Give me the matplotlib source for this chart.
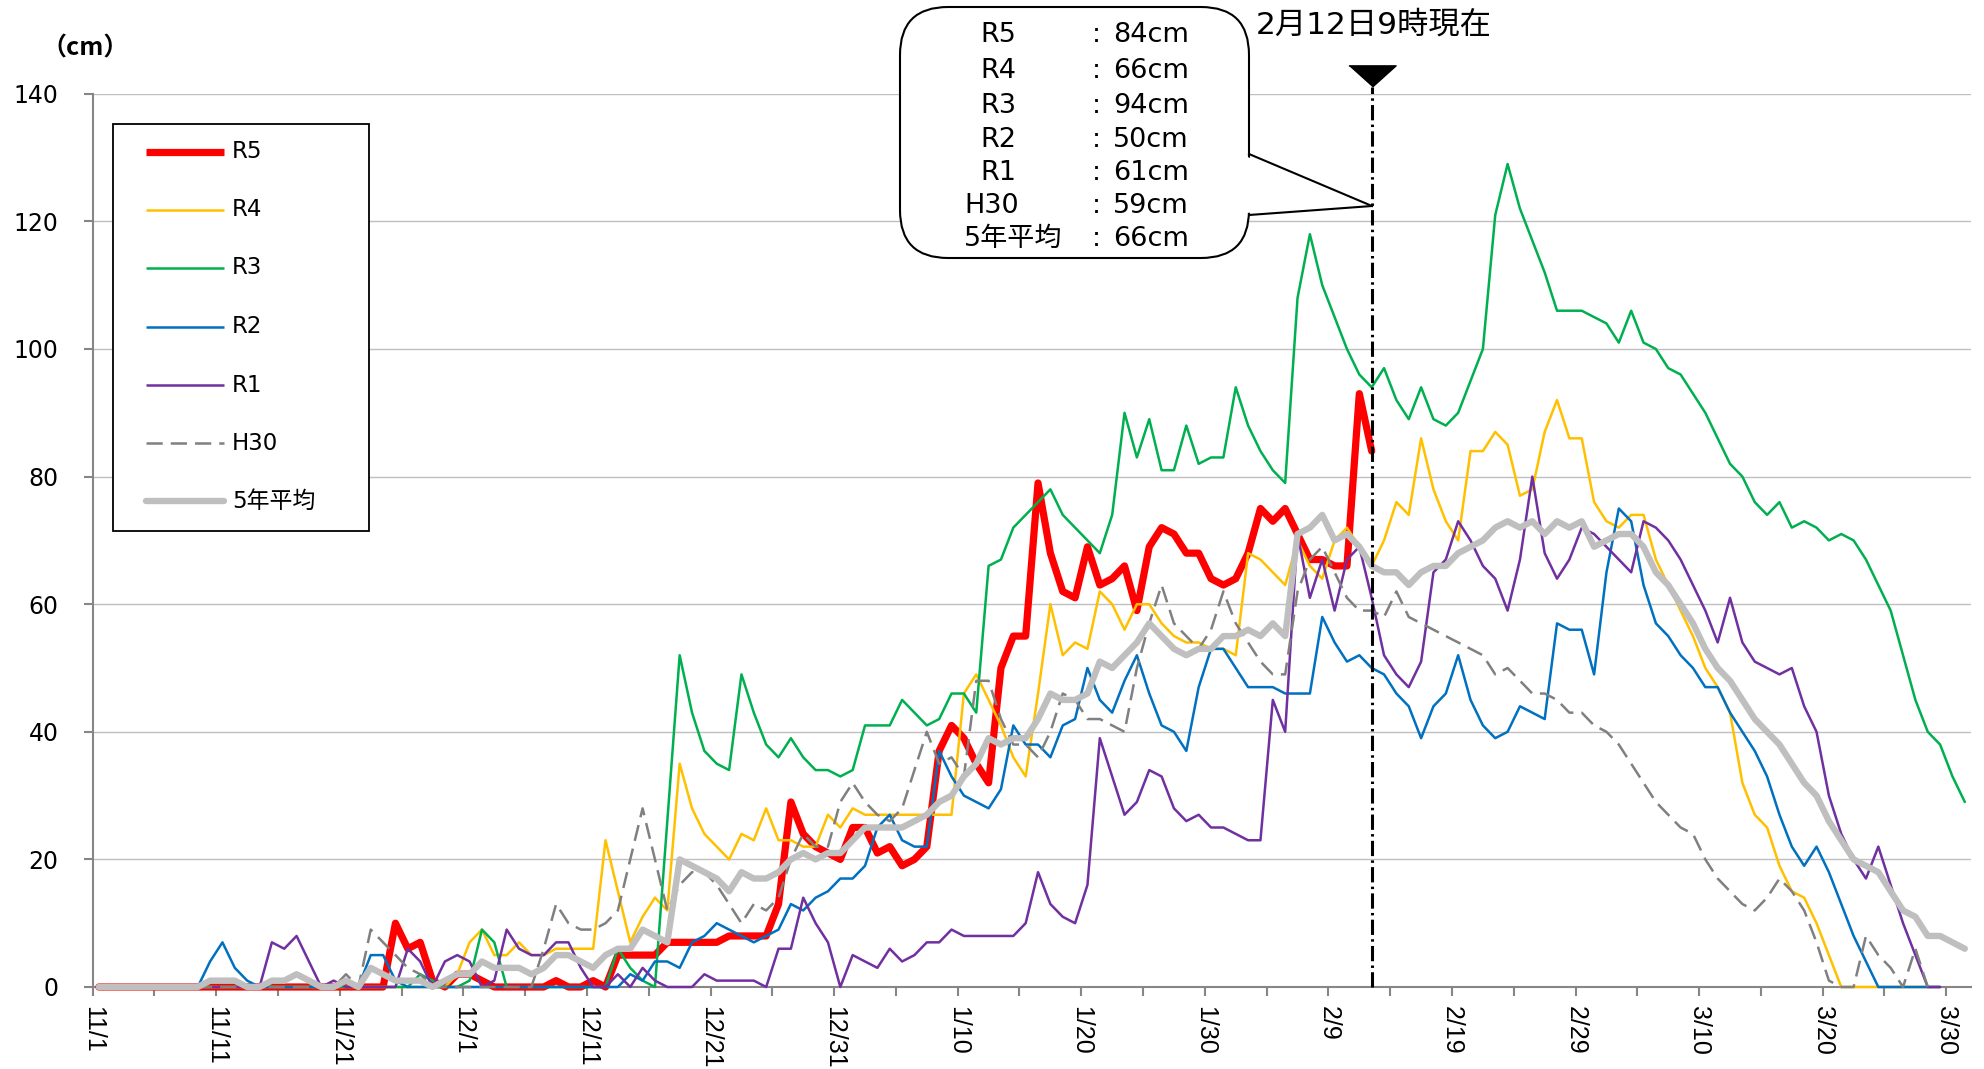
import numpy as np
import matplotlib
matplotlib.use("Agg")
import matplotlib.pyplot as plt
from matplotlib.patches import FancyBboxPatch, Polygon, Rectangle
from matplotlib.lines import Line2D
from matplotlib.transforms import IdentityTransform

# ---------------- data (snow depth, cm; one value per day from 11/1) ----------------
tick_labels = ["11/1", "11/11", "11/21", "12/1", "12/11", "12/21", "12/31", "1/10",
               "1/20", "1/30", "2/9", "2/19", "2/29", "3/10", "3/20", "3/30"]

r5 = [0, 0, 0, 0, 0, 0, 0, 0, 0, 0,
      0, 0, 0, 0, 0, 0, 0, 0, 0, 0,
      0, 0, 0, 0, 10, 6, 7, 1, 0, 2,
      2, 1, 0, 0, 0, 0, 0, 1, 0, 0,
      1, 0, 5, 5, 5, 5, 7, 7, 7, 7,
      7, 8, 8, 8, 8, 13, 29, 24, 22, 21,
      20, 25, 25, 21, 22, 19, 20, 22, 37, 41,
      39, 35, 32, 50, 55, 55, 79, 68, 62, 61,
      69, 63, 64, 66, 59, 69, 72, 71, 68, 68,
      64, 63, 64, 68, 75, 73, 75, 71, 67, 67,
      66, 66, 93, 84]

r4 = [0, 0, 0, 0, 0, 0, 0, 0, 0, 0,
      0, 0, 0, 0, 0, 0, 0, 0, 0, 0,
      0, 0, 0, 0, 0, 0, 0, 0, 0, 2,
      7, 9, 5, 5, 7, 5, 5, 6, 6, 6,
      6, 23, 15, 7, 11, 14, 12, 35, 28, 24,
      22, 20, 24, 23, 28, 23, 23, 22, 22, 27,
      25, 28, 27, 27, 27, 27, 27, 27, 27, 27,
      46, 49, 45, 41, 36, 33, 46, 60, 52, 54,
      53, 62, 60, 56, 60, 60, 57, 55, 54, 54,
      53, 53, 52, 68, 67, 65, 63, 70, 66, 64,
      70, 72, 69, 66, 70, 76, 74, 86, 78, 73,
      70, 84, 84, 87, 85, 77, 78, 87, 92, 86,
      86, 76, 73, 72, 74, 74, 67, 63, 59, 55,
      50, 47, 43, 32, 27, 25, 19, 15, 14, 10,
      5, 0, 0, 0, 0, 0, 0, 0, 0, 0]

r3 = [0, 0, 0, 0, 0, 0, 0, 0, 0, 0,
      0, 0, 0, 0, 0, 0, 0, 0, 0, 0,
      0, 0, 0, 0, 0, 0, 2, 1, 0, 0,
      1, 9, 7, 0, 0, 0, 0, 0, 0, 0,
      0, 0, 6, 3, 1, 0, 26, 52, 43, 37,
      35, 34, 49, 43, 38, 36, 39, 36, 34, 34,
      33, 34, 41, 41, 41, 45, 43, 41, 42, 46,
      46, 43, 66, 67, 72, 74, 76, 78, 74, 72,
      70, 68, 74, 90, 83, 89, 81, 81, 88, 82,
      83, 83, 94, 88, 84, 81, 79, 108, 118, 110,
      105, 100, 96, 94, 97, 92, 89, 94, 89, 88,
      90, 95, 100, 121, 129, 122, 117, 112, 106, 106,
      106, 105, 104, 101, 106, 101, 100, 97, 96, 93,
      90, 86, 82, 80, 76, 74, 76, 72, 73, 72,
      70, 71, 70, 67, 63, 59, 52, 45, 40, 38,
      33, 29]

r2 = [0, 0, 0, 0, 0, 0, 0, 0, 0, 4,
      7, 3, 1, 0, 0, 0, 0, 0, 0, 0,
      1, 0, 5, 5, 1, 0, 0, 0, 0, 0,
      0, 0, 0, 0, 0, 0, 0, 0, 0, 0,
      0, 0, 0, 2, 1, 4, 4, 3, 7, 8,
      10, 9, 8, 7, 8, 9, 13, 12, 14, 15,
      17, 17, 19, 25, 27, 23, 22, 22, 37, 33,
      30, 29, 28, 31, 41, 38, 38, 36, 41, 42,
      50, 45, 43, 48, 52, 46, 41, 40, 37, 47,
      53, 53, 50, 47, 47, 47, 46, 46, 46, 58,
      54, 51, 52, 50, 49, 46, 44, 39, 44, 46,
      52, 45, 41, 39, 40, 44, 43, 42, 57, 56,
      56, 49, 65, 75, 73, 63, 57, 55, 52, 50,
      47, 47, 43, 40, 37, 33, 27, 22, 19, 22,
      18, 13, 8, 4, 0, 0, 0, 0, 0, 0]

r1 = [0, 0, 0, 0, 0, 0, 0, 0, 0, 0,
      0, 0, 0, 0, 7, 6, 8, 4, 0, 1,
      0, 0, 0, 0, 0, 6, 4, 0, 4, 5,
      4, 0, 1, 9, 6, 5, 5, 7, 7, 3,
      0, 0, 2, 0, 3, 1, 0, 0, 0, 2,
      1, 1, 1, 1, 0, 6, 6, 14, 10, 7,
      0, 5, 4, 3, 6, 4, 5, 7, 7, 9,
      8, 8, 8, 8, 8, 10, 18, 13, 11, 10,
      16, 39, 33, 27, 29, 34, 33, 28, 26, 27,
      25, 25, 24, 23, 23, 45, 40, 71, 61, 67,
      59, 67, 69, 61, 52, 49, 47, 51, 65, 67,
      73, 70, 66, 64, 59, 67, 80, 68, 64, 67,
      72, 71, 69, 67, 65, 73, 72, 70, 67, 63,
      59, 54, 61, 54, 51, 50, 49, 50, 44, 40,
      30, 24, 20, 17, 22, 16, 10, 5, 0, 0]

h30 = [0, 0, 0, 0, 0, 0, 0, 0, 0, 0,
       0, 0, 0, 0, 0, 0, 0, 0, 0, 0,
       2, 0, 9, 7, 5, 3, 2, 0, 0, 0,
       0, 0, 0, 0, 0, 0, 6, 13, 10, 9,
       9, 10, 12, 20, 28, 20, 12, 16, 18, 18,
       16, 13, 10, 13, 12, 14, 20, 24, 22, 22,
       29, 32, 29, 27, 26, 28, 34, 40, 35, 36,
       33, 48, 48, 42, 38, 38, 36, 40, 46, 45,
       42, 42, 41, 40, 50, 57, 63, 57, 55, 53,
       56, 62, 57, 54, 51, 49, 49, 62, 67, 69,
       65, 61, 59, 59, 58, 62, 58, 57, 56, 55,
       54, 53, 52, 49, 50, 48, 46, 46, 45, 43,
       43, 41, 40, 38, 35, 32, 29, 27, 25, 24,
       20, 17, 15, 13, 12, 14, 17, 15, 12, 7,
       1, 0, 0, 8, 5, 3, 0, 6, 0]

avg5 = [0, 0, 0, 0, 0, 0, 0, 0, 0, 1,
        1, 1, 0, 0, 1, 1, 2, 1, 0, 0,
        1, 0, 3, 2, 1, 1, 1, 0, 1, 2,
        2, 4, 3, 3, 3, 2, 3, 5, 5, 4,
        3, 5, 6, 6, 9, 8, 7, 20, 19, 18,
        17, 15, 18, 17, 17, 18, 20, 21, 20, 21,
        21, 23, 25, 25, 25, 25, 26, 27, 29, 30,
        33, 35, 39, 38, 39, 39, 42, 46, 45, 45,
        46, 51, 50, 52, 54, 57, 55, 53, 52, 53,
        53, 55, 55, 56, 55, 57, 55, 71, 72, 74,
        70, 71, 69, 66, 65, 65, 63, 65, 66, 66,
        68, 69, 70, 72, 73, 72, 73, 71, 73, 72,
        73, 69, 70, 71, 71, 69, 65, 63, 60, 57,
        53, 50, 48, 45, 42, 40, 38, 35, 32, 30,
        26, 23, 20, 19, 18, 15, 12, 11, 8, 8,
        7, 6]

names = ["R5", "R4", "R3", "R2", "R1", "H30", "5年平均"]
series = [r5, r4, r3, r2, r1, h30, avg5]
colors = ["#FF0000", "#FFC000", "#00B050", "#0070C0", "#7030A0", "#808080", "#BFBFBF"]
widths = [5.2, 1.8, 1.8, 1.8, 1.8, 1.8, 4.6]
now_index = 103            # 2/12
now_label = "2月12日9時現在"

# ---------------- figure ----------------
W, H, DPI = 1984, 1069, 100
CJK = ["Noto Sans CJK JP", "DejaVu Sans"]
plt.rcParams["font.family"] = ["DejaVu Sans", "Noto Sans CJK JP"]
H30_DASH = (6.5, 3.2)

fig = plt.figure(figsize=(W / DPI, H / DPI), dpi=DPI)
L, R, T, B = 92.7, 1971.0, 93.8, 987.0
ax = fig.add_axes([L / W, 1 - B / H, (R - L) / W, (B - T) / H])

ID = IdentityTransform()
def P(x, y):
    return (x, H - y)

for k, (nm, vals, c, lw) in enumerate(zip(names, series, colors, widths)):
    x = np.arange(len(vals)) + 0.5
    kw = dict(color=c, lw=lw, zorder=3 + k, clip_on=False)
    if nm == "H30":
        kw["dashes"] = H30_DASH
    else:
        kw["solid_joinstyle"] = "round"
        kw["solid_capstyle"] = "round"
    ax.plot(x, vals, **kw)

ax.set_xlim(0, 152)
ax.set_ylim(0, 140)
ax.set_yticks(np.arange(0, 141, 20))
ax.set_xticks(np.arange(0, 151, 10))
ax.set_xticks(np.arange(5, 150, 10), minor=True)
ax.set_xticklabels(tick_labels, rotation=-90, fontsize=18, family=["Liberation Sans"])
for lab in ax.get_yticklabels():
    lab.set_fontsize(17)
ax.yaxis.grid(True, color="#BFBFBF", lw=1.0)
ax.set_axisbelow(True)
for s in ["top", "right"]:
    ax.spines[s].set_visible(False)
for s in ["left", "bottom"]:
    ax.spines[s].set_color("#868686")
    ax.spines[s].set_linewidth(1.5)
ax.tick_params(axis="y", length=6.5, width=1.5, color="#868686", pad=18)
ax.tick_params(axis="x", which="both", length=6.5, width=1.5, color="#868686", pad=7)

# unit label
fig.text(*P(85, 48), "（cm）", transform=ID, ha="center", va="center",
         fontsize=18, fontweight="bold", family=CJK)

# "now" marker line and triangle
now_x = now_index + 0.5
ax.plot([now_x, now_x], [0, 141], color="black", lw=2.2, dashes=(5, 1.4, 0.8, 1.4),
        clip_on=False, zorder=20)
tri = [(-1, 0.45), (1, 0.45), (0, -0.45)]
ax.plot([now_x], [142.8], marker=tri, ms=34, color="black", clip_on=False, zorder=20,
        linestyle="none")
fig.text(*P(1256, 25), now_label, transform=ID, ha="left", va="center",
         fontsize=22.5, family=["DejaVu Sans", "Noto Sans CJK JP"])

# callout bubble
bx0, bx1, by0, by1 = 900, 1249, 7, 258
box = FancyBboxPatch(P(bx0, by1), bx1 - bx0, by1 - by0,
                     boxstyle="round,pad=0,rounding_size=48",
                     transform=ID, fc="white", ec="black", lw=1.5, zorder=30)
fig.add_artist(box)
tip = P(1372, 206)
wedge = Polygon([P(1245, 156), tip, P(1245, 213)], closed=True, transform=ID,
                fc="white", ec="none", zorder=31)
fig.add_artist(wedge)
fig.add_artist(Line2D([bx1, tip[0]], [H - 154, tip[1]], transform=ID, color="black",
                      lw=1.5, zorder=32))
fig.add_artist(Line2D([tip[0], bx1], [tip[1], H - 215], transform=ID, color="black",
                      lw=1.5, zorder=32))
rows_y = [35, 71, 106, 140, 173, 206, 239]
CF = ["DejaVu Sans", "Noto Sans CJK JP"]
for nm, vals, yy in zip(names, series, rows_y):
    if nm in ("H30", "5年平均"):
        fig.text(*P(964, yy), nm, transform=ID, ha="left", va="center",
                 fontsize=19.5, family=CF, zorder=33)
    else:
        fig.text(*P(998, yy), nm, transform=ID, ha="center", va="center",
                 fontsize=19.5, family=CF, zorder=33)
    fig.text(*P(1096, yy), ":", transform=ID, ha="center", va="center",
             fontsize=19.5, family=CF, zorder=33)
    fig.text(*P(1113, yy), f"{vals[now_index]}cm", transform=ID, ha="left",
             va="center", fontsize=19.5, family=CF, zorder=33)

# legend (manual)
lx0, lx1, ly0, ly1 = 113, 369, 124, 531
fig.add_artist(Rectangle(P(lx0, ly1), lx1 - lx0, ly1 - ly0, transform=ID,
                         fc="white", ec="black", lw=1.3, zorder=30))
leg_y = [152, 210, 268, 326.5, 385, 443, 501]
for nm, c, lw, yy in zip(names, colors, widths, leg_y):
    kw = dict(transform=ID, color=c, lw=lw, zorder=31)
    if nm == "H30":
        kw["dashes"] = H30_DASH
    else:
        kw["solid_capstyle"] = "round" if nm == "5年平均" else "butt"
    fig.add_artist(Line2D([146, 224], [H - yy, H - yy], **kw))
    fig.text(*P(232, yy), nm, transform=ID, ha="left", va="center",
             fontsize=16.5, zorder=32)

fig.savefig("out.png", dpi=DPI)
